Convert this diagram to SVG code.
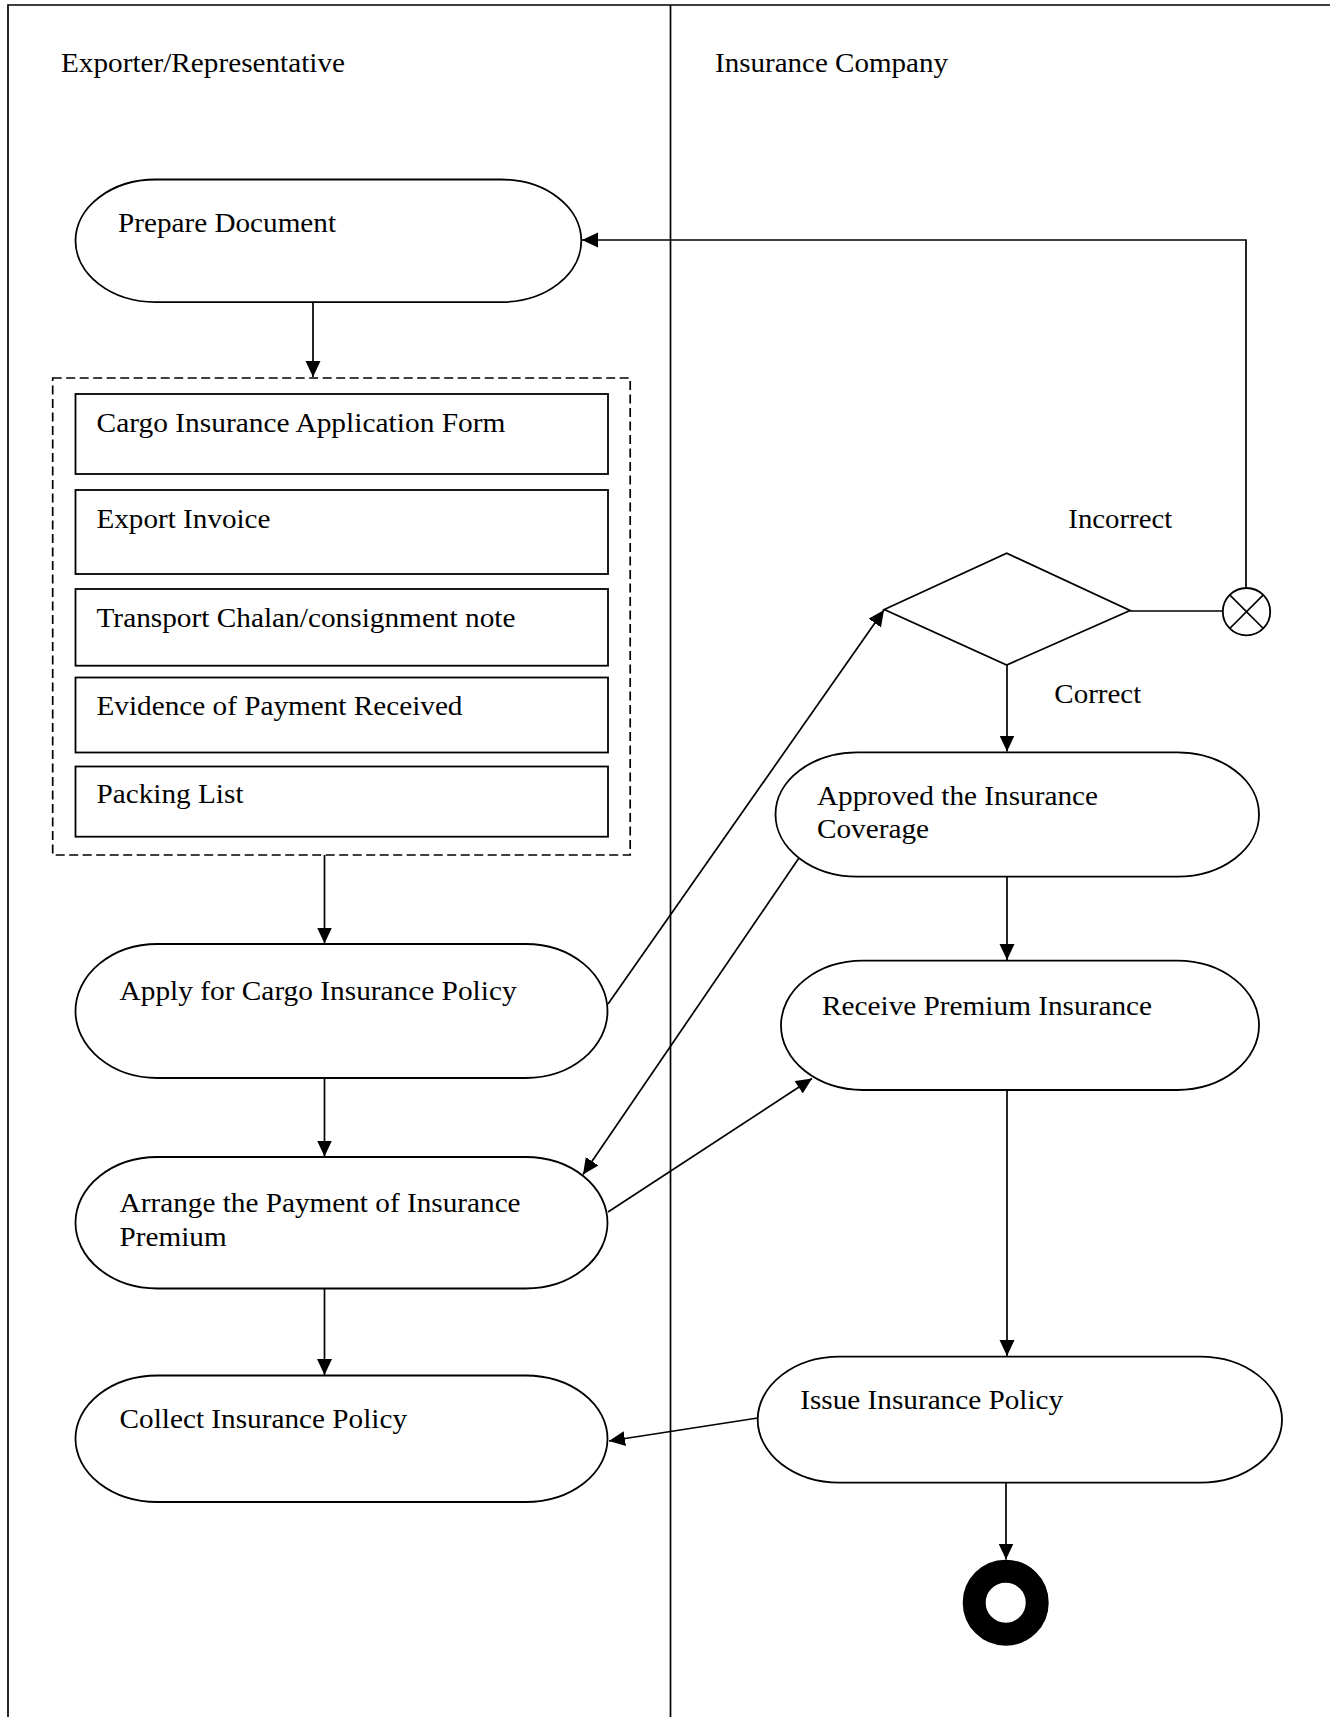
<svg xmlns="http://www.w3.org/2000/svg" width="1330" height="1717" viewBox="0 0 1330 1717">
  <style>
    .bg { fill: #ffffff; }
    .frame { fill: none; stroke: #000; stroke-width: 1.7; }
    .act { fill: #ffffff; stroke: #000; stroke-width: 1.8; }
    .doc { fill: #ffffff; stroke: #000; stroke-width: 1.8; }
    .group { fill: none; stroke: #000; stroke-width: 1.7; stroke-dasharray: 9 4.5; }
    .edge { fill: none; stroke: #000; stroke-width: 1.7; }
    .lbl { font-family: "Liberation Serif", "Times New Roman", serif; font-size: 28px; fill: #000; }
  </style>
  <defs>
    <marker id="arrow" markerUnits="userSpaceOnUse" markerWidth="18" markerHeight="16" refX="16" refY="7.5" orient="auto">
      <path d="M0,0 L16,7.5 L0,15 Z" fill="#000"/>
    </marker>
  </defs>

  <rect class="bg" x="0" y="0" width="1330" height="1717"/>

  <!-- swimlanes -->
  <g id="lanes">
    <path class="frame" d="M8,1717 V5 H1330"/>
    <line class="frame" x1="670.5" y1="5" x2="670.5" y2="1717"/>
    <text class="lbl" x="61" y="72" textLength="284" lengthAdjust="spacingAndGlyphs">Exporter/Representative</text>
    <text class="lbl" x="715" y="72" textLength="233" lengthAdjust="spacingAndGlyphs">Insurance Company</text>
  </g>

  <!-- connectors -->
  <g id="connectors">
    <line class="edge" x1="313" y1="302" x2="313" y2="377" marker-end="url(#arrow)"/>
    <line class="edge" x1="324.5" y1="855" x2="324.5" y2="943.5" marker-end="url(#arrow)"/>
    <line class="edge" x1="324.5" y1="1078" x2="324.5" y2="1156.5" marker-end="url(#arrow)"/>
    <line class="edge" x1="324.5" y1="1288.5" x2="324.5" y2="1375" marker-end="url(#arrow)"/>
    <line class="edge" x1="608" y1="1004" x2="884" y2="610" marker-end="url(#arrow)"/>
    <line class="edge" x1="1007" y1="665" x2="1007" y2="751.5" marker-end="url(#arrow)"/>
    <line class="edge" x1="1130" y1="611" x2="1223" y2="611"/>
    <path class="edge" d="M1246,588 V240 H582" marker-end="url(#arrow)"/>
    <line class="edge" x1="801" y1="855" x2="583" y2="1174.5" marker-end="url(#arrow)"/>
    <line class="edge" x1="608" y1="1212" x2="812" y2="1078.5" marker-end="url(#arrow)"/>
    <line class="edge" x1="1007" y1="876.5" x2="1007" y2="960" marker-end="url(#arrow)"/>
    <line class="edge" x1="1007" y1="1090" x2="1007" y2="1356" marker-end="url(#arrow)"/>
    <line class="edge" x1="757.7" y1="1418" x2="609" y2="1441" marker-end="url(#arrow)"/>
    <line class="edge" x1="1006" y1="1482.7" x2="1006" y2="1559.5" marker-end="url(#arrow)"/>
  </g>

  <!-- exporter lane -->
  <g id="prepare-document">
    <rect class="act" x="75.5" y="179.5" width="505.8" height="122.6" rx="80" ry="61.3"/>
    <text class="lbl" x="118" y="232" textLength="218" lengthAdjust="spacingAndGlyphs">Prepare Document</text>
  </g>

  <g id="documents">
    <rect class="group" x="52.7" y="378" width="577.5" height="477"/>
    <g id="doc-application-form">
      <rect class="doc" x="75.5" y="394" width="532.5" height="80"/>
      <text class="lbl" x="96.5" y="431.7" textLength="409" lengthAdjust="spacingAndGlyphs">Cargo Insurance Application Form</text>
    </g>
    <g id="doc-export-invoice">
      <rect class="doc" x="75.5" y="490" width="532.5" height="84"/>
      <text class="lbl" x="96.5" y="527.7" textLength="174" lengthAdjust="spacingAndGlyphs">Export Invoice</text>
    </g>
    <g id="doc-transport-chalan">
      <rect class="doc" x="75.5" y="589" width="532.5" height="76.7"/>
      <text class="lbl" x="96.5" y="626.7" textLength="419" lengthAdjust="spacingAndGlyphs">Transport Chalan/consignment note</text>
    </g>
    <g id="doc-payment-evidence">
      <rect class="doc" x="75.5" y="677.5" width="532.5" height="75"/>
      <text class="lbl" x="96.5" y="715" textLength="366" lengthAdjust="spacingAndGlyphs">Evidence of Payment Received</text>
    </g>
    <g id="doc-packing-list">
      <rect class="doc" x="75.5" y="766.5" width="532.5" height="70.2"/>
      <text class="lbl" x="96.5" y="803.3" textLength="147" lengthAdjust="spacingAndGlyphs">Packing List</text>
    </g>
  </g>

  <g id="apply-policy">
    <rect class="act" x="75.5" y="944" width="532" height="134" rx="82" ry="67"/>
    <text class="lbl" x="119.6" y="999.5" textLength="397" lengthAdjust="spacingAndGlyphs">Apply for Cargo Insurance Policy</text>
  </g>

  <g id="arrange-payment">
    <rect class="act" x="75.5" y="1157" width="532" height="131.5" rx="82" ry="65.7"/>
    <text class="lbl" x="119.6" y="1211.9" textLength="401" lengthAdjust="spacingAndGlyphs">Arrange the Payment of Insurance</text>
    <text class="lbl" x="119.6" y="1245.6" textLength="107" lengthAdjust="spacingAndGlyphs">Premium</text>
  </g>

  <g id="collect-policy">
    <rect class="act" x="75.5" y="1375.5" width="532" height="126.5" rx="82" ry="63.2"/>
    <text class="lbl" x="119.6" y="1428.1" textLength="287.5" lengthAdjust="spacingAndGlyphs">Collect Insurance Policy</text>
  </g>

  <!-- insurance company lane -->
  <g id="check-decision">
    <polygon class="act" points="884.3,609.5 1006.7,553.3 1130,610.5 1006.7,665"/>
    <text class="lbl" x="1068.3" y="527.7" textLength="104" lengthAdjust="spacingAndGlyphs">Incorrect</text>
    <text class="lbl" x="1054.3" y="703.3" textLength="87" lengthAdjust="spacingAndGlyphs">Correct</text>
  </g>

  <g id="flow-final">
    <circle class="act" cx="1246.5" cy="611.7" r="23.7"/>
    <line class="edge" x1="1229.7" y1="594.9" x2="1263.3" y2="628.5"/>
    <line class="edge" x1="1263.3" y1="594.9" x2="1229.7" y2="628.5"/>
  </g>

  <g id="approve-coverage">
    <rect class="act" x="775.5" y="752.3" width="483.5" height="124.3" rx="82" ry="62.1"/>
    <text class="lbl" x="817" y="805" textLength="281" lengthAdjust="spacingAndGlyphs">Approved the Insurance</text>
    <text class="lbl" x="817" y="838.3" textLength="112" lengthAdjust="spacingAndGlyphs">Coverage</text>
  </g>

  <g id="receive-premium">
    <rect class="act" x="781" y="960.7" width="478" height="129.3" rx="82" ry="64.6"/>
    <text class="lbl" x="822" y="1015" textLength="330" lengthAdjust="spacingAndGlyphs">Receive Premium Insurance</text>
  </g>

  <g id="issue-policy">
    <rect class="act" x="757.7" y="1356.7" width="524.3" height="126" rx="82" ry="63"/>
    <text class="lbl" x="800.2" y="1409.3" textLength="263" lengthAdjust="spacingAndGlyphs">Issue Insurance Policy</text>
  </g>

  <g id="activity-final">
    <circle cx="1005.7" cy="1602.7" r="31.5" fill="none" stroke="#000" stroke-width="23"/>
  </g>
</svg>
